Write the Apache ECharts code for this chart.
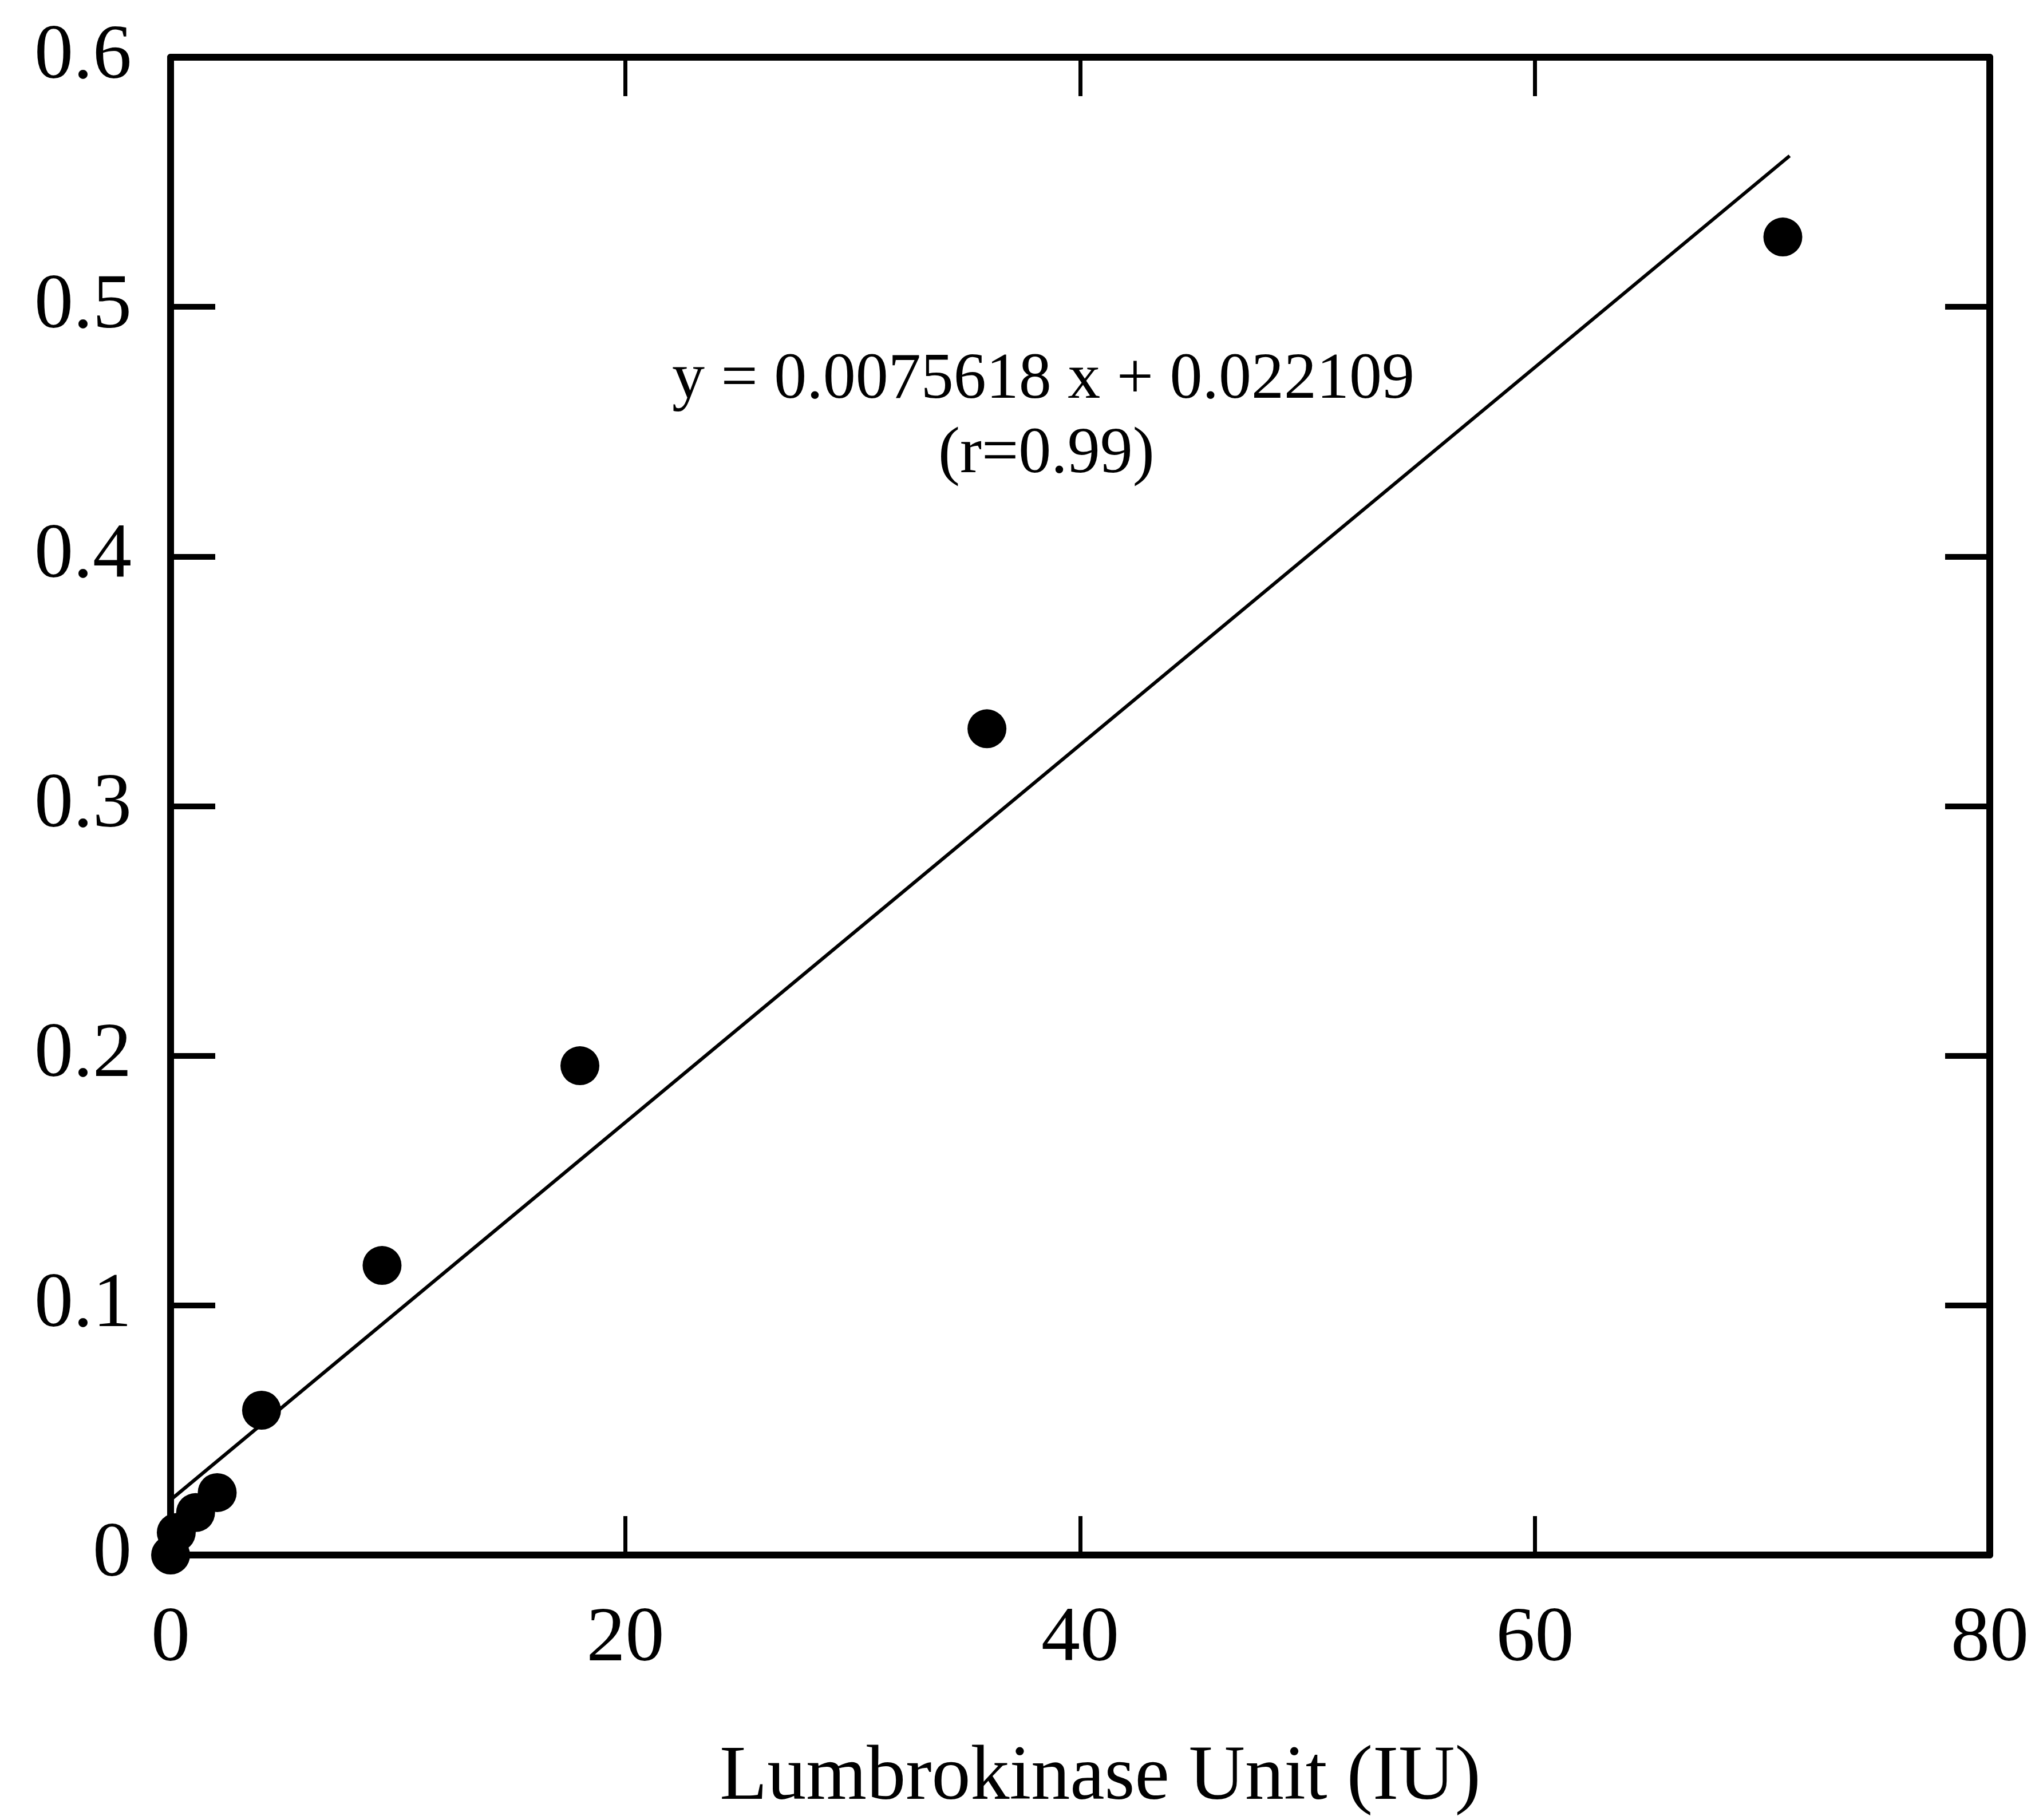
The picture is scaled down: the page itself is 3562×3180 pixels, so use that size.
<!DOCTYPE html>
<html>
<head>
<meta charset="utf-8">
<script src="https://cdn.jsdelivr.net/npm/echarts@6/dist/echarts.min.js"></script>
<style>
  html, body { margin: 0; padding: 0; background: #fff; }
  #chart { width: 3562px; height: 3180px; }
</style>
</head>
<body>
<div id="chart"></div>
<script>
// measured points (Lumbrokinase unit vs absorbance)
const unitsIU = [0, 0.25, 1.1, 2.05, 4.0, 9.3, 18.0, 35.9, 70.9];
const absorbance = [0, 0.009, 0.017, 0.025, 0.058, 0.116, 0.196, 0.331, 0.528];

// fitted line end points (y = 0.0075618 x + 0.022109)
const fitX = [0, 71.2];
const fitY = [0.0221, 0.5605];

const xTicks = [0, 20, 40, 60, 80];
const yTicks = [0, 0.1, 0.2, 0.3, 0.4, 0.5, 0.6];
const eqText = 'y = 0.0075618 x + 0.022109';
const rText = '(r=0.99)';
const xTitle = 'Lumbrokinase Unit (IU)';

const FONT = '"Liberation Serif", "Times New Roman", serif';
const INK = '#000';

const chart = echarts.init(document.getElementById('chart'));

const frameX = (pos, showLabel) => ({
  type: 'value', position: pos, min: xTicks[0], max: xTicks[xTicks.length - 1], interval: 20,
  axisLine: { show: true, onZero: false, lineStyle: { color: INK, width: 12 } },
  axisTick: { show: true, inside: true, length: 68, lineStyle: { color: INK, width: 7 } },
  axisLabel: { show: showLabel, color: INK, fontFamily: FONT, fontSize: 136, margin: 80 },
  splitLine: { show: false }
});
const frameY = (pos, showLabel) => ({
  type: 'value', position: pos, min: yTicks[0], max: yTicks[yTicks.length - 1], interval: 0.1,
  axisLine: { show: true, onZero: false, lineStyle: { color: INK, width: 12 } },
  axisTick: { show: true, inside: true, length: 78, lineStyle: { color: INK, width: 10 } },
  axisLabel: { show: showLabel, color: INK, fontFamily: FONT, fontSize: 136, margin: 68 },
  splitLine: { show: false }
});

const xBottom = frameX('bottom', true);
xBottom.name = xTitle;
xBottom.nameLocation = 'middle';
xBottom.nameGap = 322;
xBottom.nameTextStyle = { color: INK, fontFamily: FONT, fontSize: 136, padding: [0, 0, 0, 70] };

chart.setOption({
  backgroundColor: '#fff',
  animation: false,
  grid: { left: 298, right: 86, top: 100, bottom: 455 },
  xAxis: [xBottom, frameX('top', false)],
  yAxis: [frameY('left', true), frameY('right', false)],
  graphic: [
    { type: 'text', left: 1814 - 640, top: 672 - 64, style: { text: eqText, font: '114px ' + FONT, fill: INK } },
    { type: 'text', left: 1837 - 198, top: 802 - 64, style: { text: rText, font: '114px ' + FONT, fill: INK } }
  ],
  series: [
    {
      type: 'line', xAxisIndex: 0, yAxisIndex: 0,
      data: fitX.map((x, i) => [x, fitY[i]]),
      showSymbol: false, lineStyle: { color: INK, width: 6 }, z: 2
    },
    {
      type: 'scatter', xAxisIndex: 0, yAxisIndex: 0, clip: false,
      data: unitsIU.map((x, i) => [x, absorbance[i]]),
      symbol: 'circle', symbolSize: 68, itemStyle: { color: INK, opacity: 1 }, z: 3
    }
  ]
});
</script>
</body>
</html>
